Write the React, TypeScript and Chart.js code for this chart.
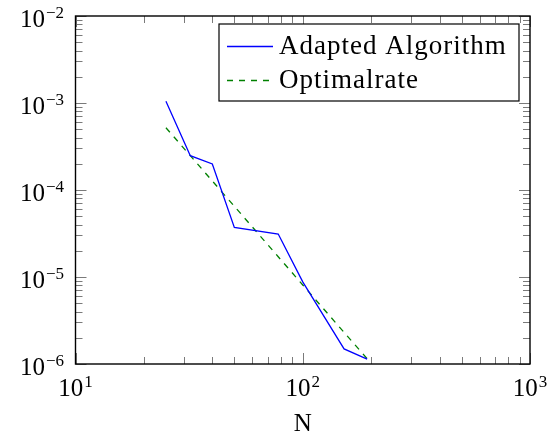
import React, { useEffect, useRef } from "react";
import { Chart, registerables } from "chart.js";

Chart.register(...registerables);

const nValues = [25, 32, 40, 50, 78, 100, 152, 192];
const adaptedError = [1.05e-3, 2.48e-4, 1.99e-4, 3.72e-5, 3.12e-5, 8.8e-6, 1.49e-6, 1.14e-6];
const optimalRate = [5.2e-4, 2.48e-4, 1.27e-4, 6.5e-5, 1.71e-5, 8.1e-6, 2.31e-6, 1.15e-6];
const seriesNames = ["Adapted Algorithm", "Optimalrate"];
const xDecades = [1, 2, 3];
const yDecades = [-6, -5, -4, -3, -2];
const xTitle = "N";

const FONT = "'Liberation Serif', 'Times New Roman', serif";

function drawPow(ctx: CanvasRenderingContext2D, exp: number, x: number, baseY: number, supY: number, align: "right" | "center") {
  const baseText = "10";
  const supText = exp < 0 ? "\u2212" + Math.abs(exp) : String(exp);
  ctx.font = `25px ${FONT}`;
  const wb = ctx.measureText(baseText).width;
  ctx.font = `17px ${FONT}`;
  const ws = ctx.measureText(supText).width;
  const total = wb + ws + 1;
  const start = align === "right" ? x - total : x - total / 2;
  ctx.textAlign = "left";
  ctx.textBaseline = "alphabetic";
  ctx.fillStyle = "#000";
  ctx.font = `25px ${FONT}`;
  ctx.fillText(baseText, start, baseY);
  ctx.font = `17px ${FONT}`;
  ctx.fillText(supText, start + wb + 1, supY);
}

const axesPlugin = {
  id: "pgfAxes",
  afterDatasetsDraw(chart: any) {
    const ctx: CanvasRenderingContext2D = chart.ctx;
    const { left, right, top, bottom } = chart.chartArea;
    const xs = chart.scales.x;
    const ys = chart.scales.y;
    ctx.save();
    ctx.strokeStyle = "#7a7a7a";
    ctx.lineWidth = 1;
    for (let d = xDecades[0]; d <= xDecades[xDecades.length - 1]; d++) {
      for (let k = 1; k <= 9; k++) {
        const v = k * Math.pow(10, d);
        if (v > Math.pow(10, xDecades[xDecades.length - 1])) break;
        const px = Math.round(xs.getPixelForValue(v)) + 0.5;
        const len = k === 1 ? 11 : 7;
        ctx.beginPath();
        ctx.moveTo(px, bottom);
        ctx.lineTo(px, bottom - len);
        ctx.moveTo(px, top);
        ctx.lineTo(px, top + len);
        ctx.stroke();
      }
    }
    for (let d = yDecades[0]; d <= yDecades[yDecades.length - 1]; d++) {
      for (let k = 1; k <= 9; k++) {
        const v = k * Math.pow(10, d);
        if (v > Math.pow(10, yDecades[yDecades.length - 1]) * 1.0001) break;
        const py = Math.round(ys.getPixelForValue(v)) + 0.5;
        const len = k === 1 ? 11 : 7;
        ctx.beginPath();
        ctx.moveTo(left, py);
        ctx.lineTo(left + len, py);
        ctx.moveTo(right, py);
        ctx.lineTo(right - len, py);
        ctx.stroke();
      }
    }
    ctx.strokeStyle = "#000";
    ctx.lineWidth = 1.4;
    ctx.strokeRect(left, top, right - left, bottom - top);

    for (const d of yDecades) {
      const py = ys.getPixelForValue(Math.pow(10, d));
      drawPow(ctx, d, 64, py + 11, py + 2, "right");
    }
    for (const d of xDecades) {
      const px = xs.getPixelForValue(Math.pow(10, d));
      drawPow(ctx, d, px, bottom + 32, bottom + 23, "center");
    }
    ctx.font = `25px ${FONT}`;
    ctx.textAlign = "center";
    ctx.textBaseline = "alphabetic";
    ctx.fillStyle = "#000";
    ctx.fillText(xTitle, (left + right) / 2, 431);

    const lx = 219, ly = 24, lw = 300, lh = 77;
    ctx.fillStyle = "#fff";
    ctx.fillRect(lx, ly, lw, lh);
    ctx.strokeStyle = "#000";
    ctx.lineWidth = 1.2;
    ctx.strokeRect(lx, ly, lw, lh);
    const ds = chart.data.datasets;
    const rows = [46, 80];
    ds.forEach((dset: any, i: number) => {
      ctx.strokeStyle = dset.borderColor;
      ctx.lineWidth = dset.borderWidth;
      ctx.setLineDash(dset.borderDash || []);
      ctx.beginPath();
      ctx.moveTo(227, rows[i] + 0.5);
      ctx.lineTo(273, rows[i] + 0.5);
      ctx.stroke();
      ctx.setLineDash([]);
      ctx.fillStyle = "#000";
      ctx.font = `27px ${FONT}`;
      (ctx as any).letterSpacing = "1px";
      ctx.textAlign = "left";
      ctx.textBaseline = "alphabetic";
      ctx.fillText(dset.label, 279, rows[i] + 8);
      (ctx as any).letterSpacing = "0px";
    });
    ctx.restore();
  },
};

export default function App() {
  const ref = useRef<HTMLCanvasElement | null>(null);
  useEffect(() => {
    document.body.style.margin = "0";
    const canvas = ref.current!;
    const chart = new Chart(canvas, {
      type: "line",
      data: {
        datasets: [
          {
            label: seriesNames[0],
            data: nValues.map((n, i) => ({ x: n, y: adaptedError[i] })),
            borderColor: "#0000ff",
            borderWidth: 1.3,
            pointRadius: 0,
            fill: false,
            tension: 0,
          },
          {
            label: seriesNames[1],
            data: nValues.map((n, i) => ({ x: n, y: optimalRate[i] })),
            borderColor: "#008000",
            borderWidth: 1.3,
            borderDash: [6, 6],
            pointRadius: 0,
            fill: false,
            tension: 0,
          },
        ],
      },
      options: {
        animation: false,
        responsive: false,
        devicePixelRatio: 1,
        layout: { padding: { left: 0, top: 16, right: 17, bottom: 0 } },
        plugins: { legend: { display: false }, tooltip: { enabled: false } },
        scales: {
          x: {
            type: "logarithmic",
            min: Math.pow(10, xDecades[0]),
            max: Math.pow(10, xDecades[xDecades.length - 1]),
            ticks: { display: false },
            grid: { display: false },
            border: { display: false },
            afterFit: (s: any) => { s.height = 73; },
          },
          y: {
            type: "logarithmic",
            min: Math.pow(10, yDecades[0]),
            max: Math.pow(10, yDecades[yDecades.length - 1]),
            ticks: { display: false },
            grid: { display: false },
            border: { display: false },
            afterFit: (s: any) => { s.width = 75.5; },
          },
        },
      } as any,
      plugins: [axesPlugin],
    });
    return () => chart.destroy();
  }, []);
  return (
    <div style={{ position: "absolute", left: 0, top: 0, width: 547, height: 437, background: "#fff" }}>
      <canvas ref={ref} width={547} height={437} style={{ display: "block" }} />
    </div>
  );
}
